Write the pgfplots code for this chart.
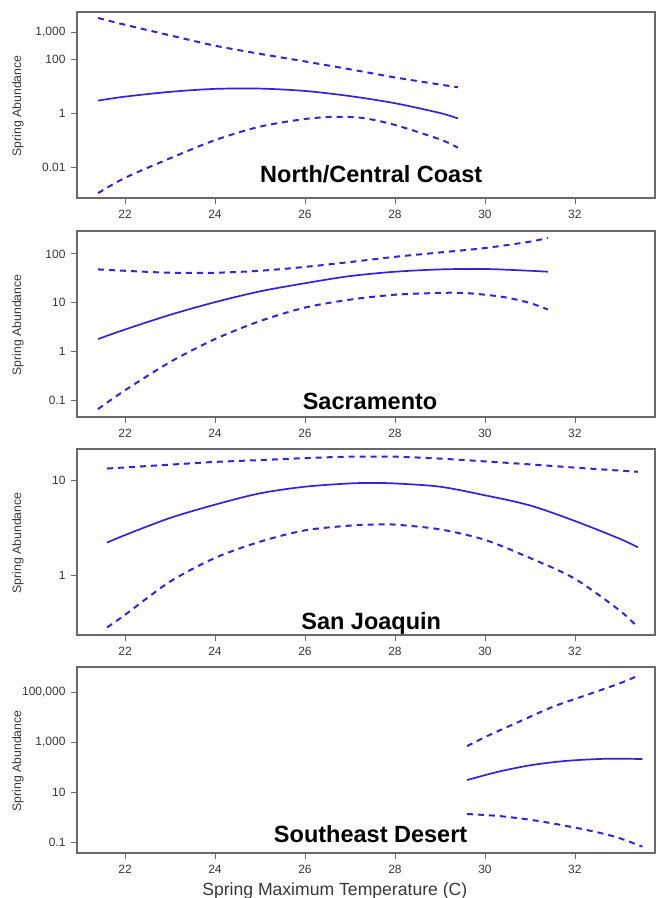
\documentclass[border=0pt]{standalone}
\usepackage{pgfplots}
\pgfplotsset{compat=1.18}
\usepackage{fontspec}
\setmainfont{Liberation Sans}
\definecolor{curve}{RGB}{50,35,228}
\definecolor{frame}{RGB}{105,105,105}
\definecolor{tlab}{RGB}{55,55,55}
\pgfplotsset{
  mypanel/.style={
    width=578pt, height=186pt, scale only axis,
    anchor=north west,
    xmin=20.933, xmax=33.78,
    xtick={22,24,26,28,30,32},
    xticklabels={22,24,26,28,30,32},
    xtick pos=bottom, ytick pos=left,
    tick align=outside,
    major tick length=6pt,
    axis line style={frame, line width=1.6pt},
    every tick/.style={frame, line width=0.8pt},
    tick label style={font=\fontsize{12}{14}\selectfont, text=tlab},
    xticklabel style={yshift=-3pt},
    yticklabel style={xshift=-2pt},
    ylabel={Spring Abundance},
    ylabel style={at={(axis description cs:-0.102,0.495)}, anchor=center, font=\fontsize{12.3}{14}\selectfont, text=tlab},
    clip=false,
  },
  est/.style={curve, line width=1.7pt, smooth, no markers},
  ci/.style={curve, line width=2pt, smooth, no markers, dash pattern=on 6pt off 5pt},
}
\tikzset{ttl/.style={anchor=base, font=\bfseries\fontsize{23.5}{26}\selectfont, text=black}}
\begin{document}
\begin{tikzpicture}
\useasboundingbox (0pt,0pt) rectangle (657pt,-898pt);
% Panel 1
\begin{axis}[mypanel, ymode=log, at={(77pt,-12pt)}, ymin=0.000776, ymax=5495,
  ytick={0.01,1,100,1000}, yticklabels={0.01,1,100,{1,000}}, yminorticks=false]
\addplot[ci] coordinates {(21.4,3311)(22,1862)(23,759)(24,316)(25,158)(26,83)(27,42.7)(28,21.4)(29,11.7)(29.4,9.3)};
\addplot[est] coordinates {(21.4,3.0)(22,4.2)(23,6.3)(24,8.1)(25,8.3)(26,6.8)(27,4.4)(28,2.4)(29,1.05)(29.4,0.66)};
\addplot[ci] coordinates {(21.4,0.00117)(22,0.0043)(23,0.0224)(24,0.105)(25,0.33)(26,0.63)(26.7,0.76)(27.3,0.68)(28,0.38)(29,0.112)(29.4,0.055)};
\node[ttl] at (rel axis cs:0.509,0.081) {North/Central Coast};
\end{axis}
% Panel 2
\begin{axis}[mypanel, ymode=log, at={(77pt,-231pt)}, ymin=0.0447, ymax=295,
  ytick={0.1,1,10,100}, yticklabels={0.1,1,10,100}, yminorticks=false]
\addplot[ci] coordinates {(21.4,48)(22,45)(23,41)(24,41)(25,45)(26,54)(27,68)(28,87)(29,107)(30,132)(31,178)(31.4,214)};
\addplot[est] coordinates {(21.4,1.78)(22,2.8)(23,5.6)(24,10.2)(25,17)(26,25)(27,35)(28,43)(29,48)(30,49)(31,45)(31.4,43)};
\addplot[ci] coordinates {(21.4,0.065)(22,0.158)(23,0.60)(24,1.78)(25,4.17)(26,7.9)(27,11.5)(28,14.5)(29,15.8)(29.5,15.8)(30,14.5)(30.5,12.6)(31,9.8)(31.4,7.2)};
\node[ttl] at (rel axis cs:0.507,0.038) {Sacramento};
\end{axis}
% Panel 3
\begin{axis}[mypanel, ymode=log, at={(77pt,-449pt)}, ymin=0.233, ymax=21.2,
  ytick={1,10}, yticklabels={1,10}, yminorticks=false]
\addplot[ci] coordinates {(21.6,13.2)(23,14.5)(24,15.5)(25,16.2)(26,17)(27,17.6)(28,17.6)(29,16.8)(30,15.7)(31,14.6)(32,13.5)(33.4,12.2)};
\addplot[est] coordinates {(21.6,2.19)(22,2.63)(23,3.98)(24,5.5)(25,7.24)(26,8.5)(27,9.2)(27.5,9.3)(28,9.2)(29,8.5)(30,6.9)(31,5.4)(32,3.7)(33,2.4)(33.4,1.95)};
\addplot[ci] coordinates {(21.6,0.28)(22,0.38)(23,0.85)(24,1.51)(25,2.24)(26,2.95)(27,3.31)(27.5,3.39)(28,3.39)(29,3.02)(30,2.34)(31,1.51)(32,0.91)(33,0.42)(33.4,0.28)};
\node[ttl] at (rel axis cs:0.509,0.032) {San Joaquin};
\end{axis}
% Panel 4
\begin{axis}[mypanel, ymode=log, at={(77pt,-667pt)}, ymin=0.0363, ymax=1000000,
  ytick={0.1,10,1000,100000}, yticklabels={0.1,10,{1,000},{100,000}}, yminorticks=false,
  xlabel={Spring Maximum Temperature (C)},
  xlabel style={at={(axis description cs:0.446,-0.231)}, anchor=base, font=\fontsize{17.6}{19}\selectfont, text=tlab}]
\addplot[ci] coordinates {(29.6,690)(30.1,1900)(30.76,6500)(31.51,25700)(32.26,76000)(33.0,224000)(33.44,480000)};
\addplot[est] coordinates {(29.6,30)(30.3,65)(31.04,120)(31.78,174)(32.52,209)(33.0,214)(33.5,209)};
\addplot[ci] coordinates {(29.6,1.32)(30.3,1.10)(31.04,0.76)(31.78,0.45)(32.52,0.24)(33.0,0.141)(33.5,0.065)};
\node[ttl] at (rel axis cs:0.508,0.059) {Southeast Desert};
\end{axis}
\end{tikzpicture}
\end{document}
